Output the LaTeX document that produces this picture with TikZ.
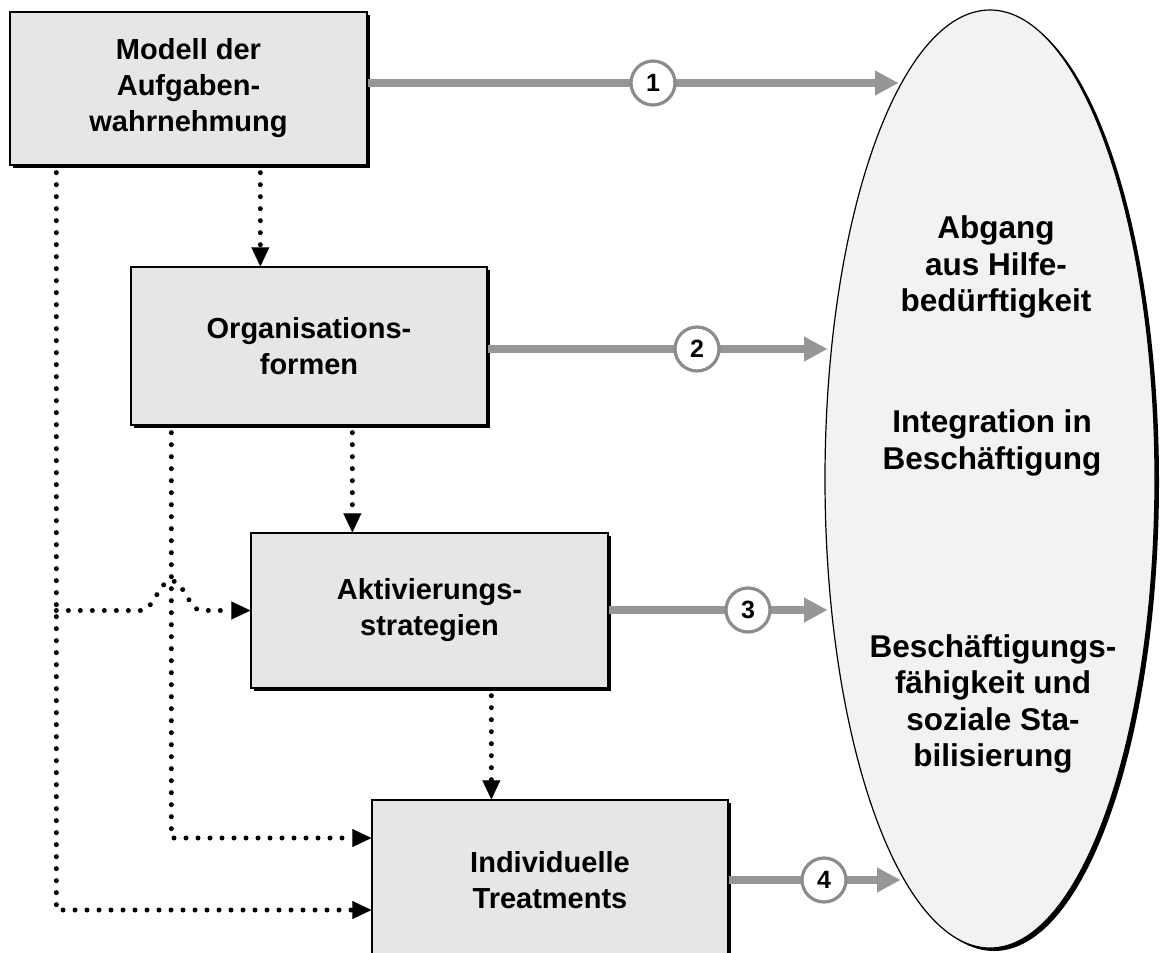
\documentclass[tikz,border=0pt]{standalone}
\usepackage{fontspec}
\setmainfont{Liberation Sans}
\usetikzlibrary{arrows.meta,shapes.geometric,shadows}
\definecolor{boxfill}{HTML}{E6E6E6}
\definecolor{ellfill}{HTML}{F2F2F2}
\definecolor{arrgray}{HTML}{969696}
\definecolor{circgray}{HTML}{8C8C8C}
\begin{document}
\begin{tikzpicture}[x=1pt,y=-1pt,
  boxnode/.style={draw=black, line width=1.3pt, fill=boxfill, rectangle, inner sep=0pt,
    align=center, font=\bfseries\fontsize{29}{36}\selectfont,
    drop shadow={shadow xshift=2.5pt,shadow yshift=-2.5pt,fill=black,opacity=1}},
  ellnode/.style={ellipse, draw=black, line width=1.2pt, fill=ellfill, inner sep=0pt,
    drop shadow={shadow xshift=4pt,shadow yshift=-3pt,fill=black,opacity=1}},
  elltext/.style={align=center, inner sep=0pt, font=\bfseries\fontsize{31.5}{36.5}\selectfont},
  grayarrow/.style={draw=arrgray, line width=7.5pt, -{Triangle[length=23pt,width=25pt,line width=0.1pt]}},
  numc/.style={circle, draw=circgray, line width=3.2pt, fill=white, minimum size=44pt, inner sep=0pt,
    font=\bfseries\fontsize{25}{25}\selectfont},
  dotline/.style={draw=black, line width=5pt, line cap=round, dash pattern=on 0pt off 12pt},
  dotarrow/.style={dotline, -{Triangle[length=19pt,width=18pt,line width=0.1pt]}},
  fromedge/.style={shorten <=7pt}
]
\useasboundingbox (0,0) rectangle (1160,953);
\clip (0,0) rectangle (1160,953);

% ellipse (outcomes)
\node[ellnode, minimum width=330pt, minimum height=938pt] (ell) at (990,479) {};
\node[elltext] (e1) at (996,267) {Abgang\\aus Hilfe-\\bedürftigkeit};
\node[elltext] (e2) at (992,443) {Integration in\\Beschäftigung};
\node[elltext] (e3) at (993,704) {Beschäftigungs-\\fähigkeit und\\soziale Sta-\\bilisierung};

% boxes
\node[boxnode, minimum width=357pt, minimum height=153pt] (b1) at (188.5,88.5) {Modell der\\Aufgaben-\\wahrnehmung};
\node[boxnode, minimum width=356pt, minimum height=158pt] (b2) at (309,346) {Organisations-\\formen};
\node[boxnode, minimum width=357pt, minimum height=155pt] (b3) at (429.5,610.5) {Aktivierungs-\\strategien};
\node[boxnode, minimum width=356pt, minimum height=160pt] (b4) at (550,880) {Individuelle\\Treatments};

% arrow tips at the ellipse
\coordinate (t1) at (898,83);
\coordinate (t2) at (827,349);
\coordinate (t3) at (827,610);
\coordinate (t4) at (900,880);

\draw[grayarrow] (b1.east |- t1) -- (t1);
\draw[grayarrow] (b2.east |- t2) -- (t2);
\draw[grayarrow] (b3.east |- t3) -- (t3);
\draw[grayarrow] (b4.east |- t4) -- (t4);

\node[numc] (n1) at (653,83) {1};
\node[numc] (n2) at (697,349) {2};
\node[numc] (n3) at (748,610) {3};
\node[numc] (n4) at (824,880) {4};

% dotted connectors
\coordinate (d1) at ([xshift=251pt]b1.south west);
\coordinate (d2) at ([xshift=47pt]b1.south west);
\coordinate (d3) at ([xshift=41pt]b2.south west);
\coordinate (d4) at ([xshift=222pt]b2.south west);
\coordinate (d5) at ([xshift=241pt]b3.south west);

\draw[dotarrow, fromedge] (d1) -- (d1 |- b2.north);
\draw[dotarrow, fromedge] (d4) -- (d4 |- b3.north);
\draw[dotarrow, fromedge] (d5) -- (d5 |- b4.north);
\draw[dotarrow, fromedge] (d3) |- ([yshift=42pt]b4.west);
\draw[dotarrow, fromedge] (d2) |- ([yshift=-30pt]b4.west);
\draw[dotarrow] (d2 |- b3.west) -- ++(85,0)
  .. controls +(12,0) and +(-12,0) .. ++(30,-30)
  .. controls +(12,0) and +(-12,0) .. ++(30,30) -- (b3.west);
\end{tikzpicture}
\end{document}
